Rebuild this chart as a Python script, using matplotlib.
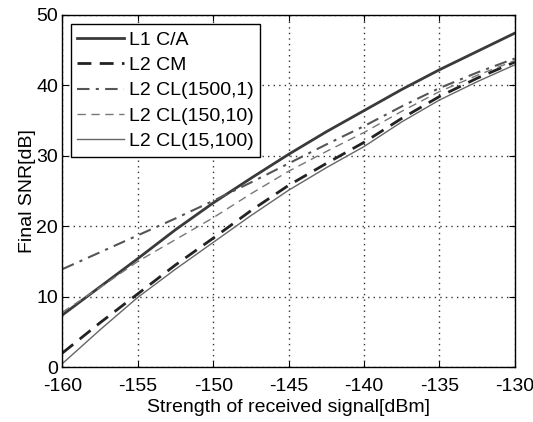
import numpy as np
import matplotlib.pyplot as plt

plt.rcParams["font.family"] = ["Liberation Sans", "DejaVu Sans"]
plt.rcParams["font.size"] = 14
plt.rcParams["axes.unicode_minus"] = False

# received signal strength [dBm]
strength = [-160, -157.5, -155, -152.5, -150, -147.5, -145, -142.5, -140, -137.5, -135, -132.5, -130]
# final SNR [dB]
snr_l1_ca = [7.4, 11.4, 15.4, 19.5, 23.3, 26.8, 30.2, 33.4, 36.4, 39.4, 42.2, 44.8, 47.4]
snr_l2_cm = [2.0, 6.3, 10.4, 14.5, 18.3, 22.2, 25.8, 28.9, 31.9, 35.3, 38.4, 41.0, 43.3]
snr_cl_1500_1 = [13.9, 16.3, 18.7, 21.1, 23.6, 26.2, 28.9, 31.6, 34.2, 37.0, 39.6, 41.8, 43.8]
snr_cl_150_10 = [7.8, 11.3, 15.0, 18.1, 21.2, 24.6, 27.8, 30.6, 33.3, 36.3, 39.1, 41.4, 43.5]
snr_cl_15_100 = [0.5, 5.3, 9.9, 13.9, 17.7, 21.5, 25.1, 28.3, 31.3, 34.8, 37.9, 40.5, 42.9]

fig = plt.figure(figsize=(5.33, 4.22), dpi=100)
ax = fig.add_axes([0.117, 0.130, 0.849, 0.835])

ax.plot(strength, snr_l1_ca, '-', color='#3a3a3a', linewidth=2.0, label='L1 C/A')
ax.plot(strength, snr_l2_cm, '--', color='#222222', linewidth=2.0, dashes=(5, 3), label='L2 CM')
ax.plot(strength, snr_cl_1500_1, '-.', color='#555555', linewidth=1.5, dashes=(6, 3, 1.5, 3), label='L2 CL(1500,1)')
ax.plot(strength, snr_cl_150_10, '--', color='#777777', linewidth=1.0, dashes=(6, 4), label='L2 CL(150,10)')
ax.plot(strength, snr_cl_15_100, '-', color='#666666', linewidth=1.0, label='L2 CL(15,100)')

ax.set_xlim(-160, -130)
ax.set_ylim(0, 50)
ax.set_xticks(np.arange(-160, -129, 5))
ax.set_yticks(np.arange(0, 51, 10))
ax.grid(True, linestyle=(0, (1, 3)), color='#333333', linewidth=1.0)
ax.tick_params(direction='in', top=True, right=True, length=4, pad=3)
ax.tick_params(axis='x', pad=8)
for s in ax.spines.values():
    s.set_linewidth(1.0)
    s.set_color('black')

ax.set_xlabel('Strength of received signal[dBm]', labelpad=3)
ax.set_ylabel('Final SNR[dB]', labelpad=0)

leg = ax.legend(loc='upper left', bbox_to_anchor=(0.018, 0.973), fancybox=False,
                edgecolor='black', framealpha=1, handlelength=2.4, handletextpad=0.25,
                labelspacing=0.4, borderpad=0.35, borderaxespad=0)
leg.get_frame().set_linewidth(1.0)

plt.savefig('out.png', dpi=100)
